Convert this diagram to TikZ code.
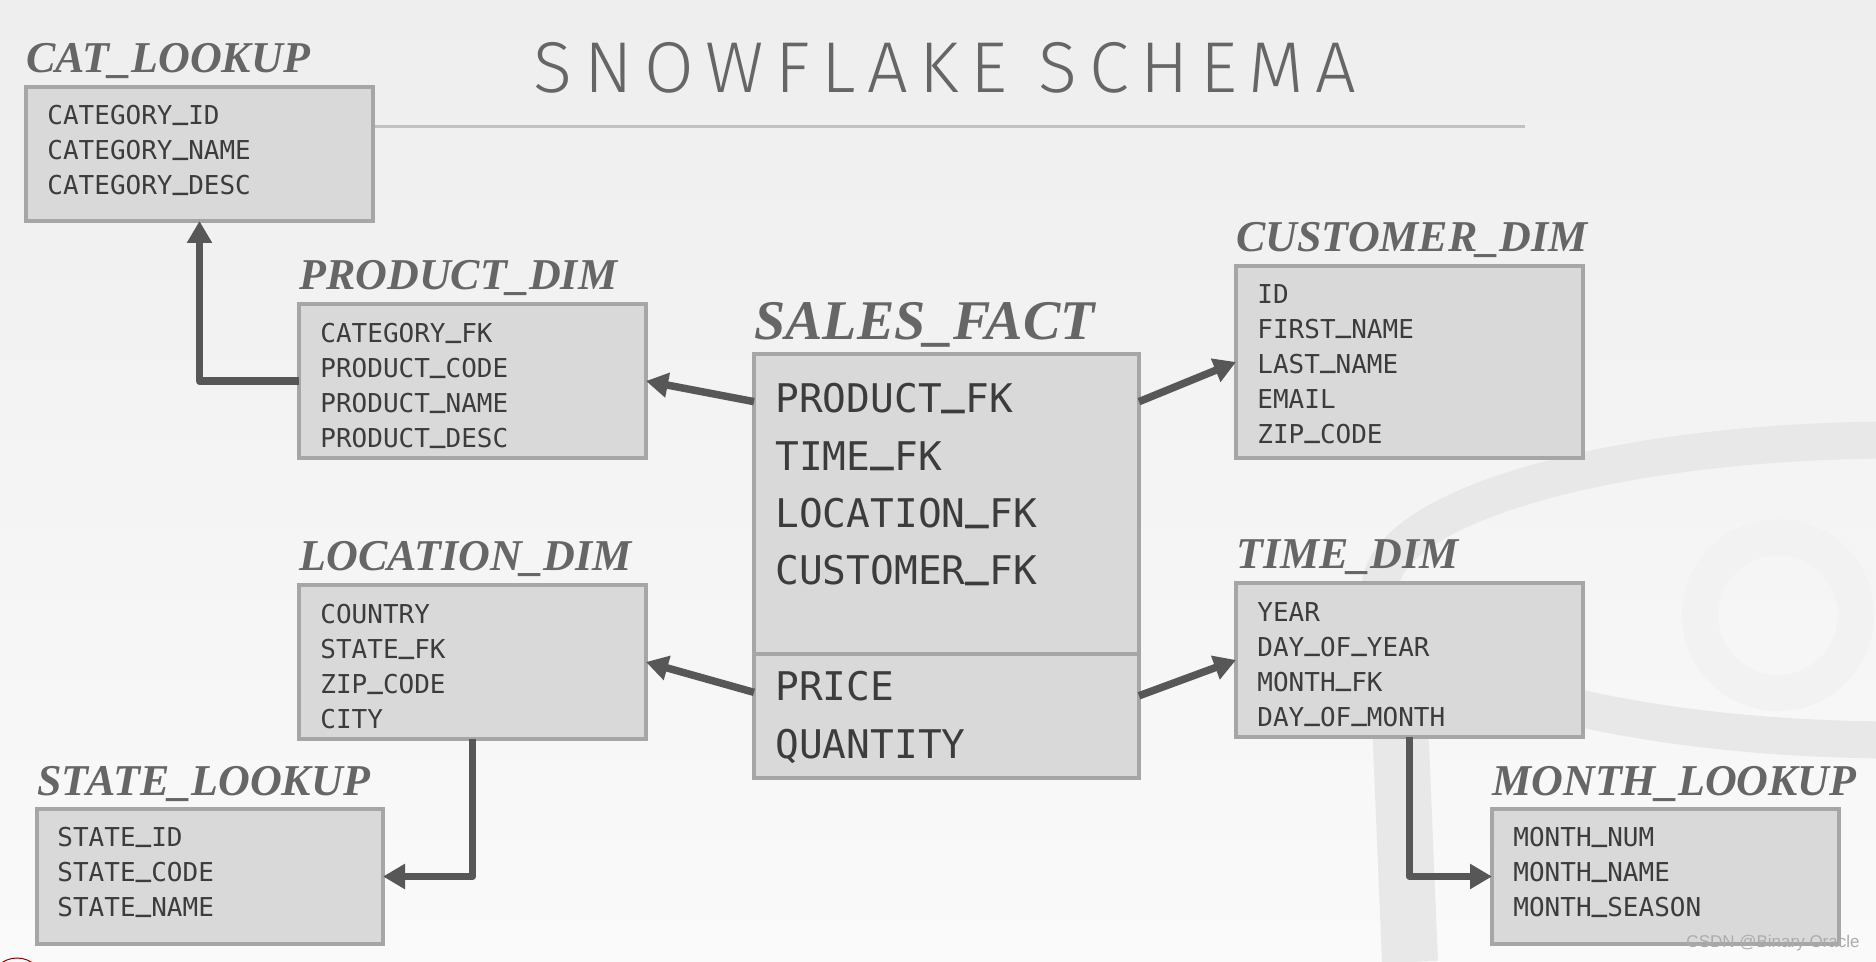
\documentclass[tikz,border=0pt]{standalone}
\usepackage{fontspec}
\usepackage{tikz}
\usetikzlibrary{positioning, arrows.meta}
\newfontfamily\rowfont{DejaVu Sans Mono}
\newfontfamily\titlefont{Liberation Serif}
\newfontfamily\headfont{Fira Sans Light}[LetterSpace=16]
\newfontfamily\markfont{Liberation Sans}
\newcommand\us{\raisebox{0.21em}{\bfseries\_}}
\definecolor{bgtop}{HTML}{EEEEEE}
\definecolor{bgbottom}{HTML}{FAFAFA}
\definecolor{logogray}{HTML}{E8E8E8}
\definecolor{boxfill}{HTML}{D9D9D9}
\definecolor{boxline}{HTML}{A6A6A6}
\definecolor{rowtext}{HTML}{3C3C3C}
\definecolor{titlegray}{HTML}{666666}
\definecolor{linkgray}{HTML}{575757}
\tikzstyle{link} = [draw=linkgray,line width=3.75pt,line join=round,-{Triangle[length=11pt,width=12pt]}]

\begin{document}
\begin{tikzpicture}[x=0.5pt,y=-0.5pt,
	tbl/.style={draw=boxline, fill=boxfill, line width=2pt, inner sep=0pt, outer sep=0pt, anchor=north west},
	rows/.style={font=\rowfont\fontsize{13pt}{17.5pt}\selectfont, text=rowtext, align=left, inner sep=0pt},
	bigrows/.style={rows, font=\rowfont\fontsize{19.75pt}{28.7pt}\selectfont},
	tabtitle/.style={font=\titlefont\bfseries\itshape\fontsize{22pt}{22pt}\selectfont, text=titlegray, inner sep=0pt, anchor=base west},
	logo/.style={draw=logogray}]
	
	% page and background
	\useasboundingbox (0,0) rectangle (1876,962);
	\shade[top color=bgtop, bottom color=bgbottom] (0,0) rectangle (1876,962);
	\draw[logo, line width=18.5pt] (1900,590) ellipse [x radius=520, y radius=150];
	\draw[logo, line width=28pt] (1395,600) -- (1410,962);
	\draw[logo, draw=logogray!45!bgbottom, line width=18pt] (1778,615) circle [radius=78];
	\draw[red!55!black, line width=0.5pt] (17,985) circle [radius=27];
	
	% heading
	\draw[draw=boxline!70, line width=1.5pt] (300,127) -- (1525,127);
	\node[font=\headfont\fontsize{36pt}{36pt}\selectfont, text=titlegray, inner sep=0pt, anchor=base] (heading) at (945,93) {SNOWFLAKE SCHEMA};
	
	% tables
	\node[tbl, minimum width=173.5pt, minimum height=67pt] (cat) at (26,87) {};
	\node[tbl, minimum width=173.5pt, minimum height=77pt] (product) at (299,304) {};
	\node[tbl, minimum width=192.5pt, minimum height=150pt] (salesfk) at (754,354) {};
	\node[tbl, minimum width=192.5pt, minimum height=62pt, below=0pt of salesfk] (salesm) {};
	\node[tbl, minimum width=173.5pt, minimum height=96pt] (customer) at (1236,266) {};
	\node[tbl, minimum width=173.5pt, minimum height=77pt] (location) at (299,585) {};
	\node[tbl, minimum width=173.5pt, minimum height=77pt] (time) at (1236,583) {};
	\node[tbl, minimum width=173pt, minimum height=67.5pt] (state) at (37,809) {};
	\node[tbl, minimum width=173.5pt, minimum height=67.5pt] (month) at (1492,809) {};
	
	% table names
	\node[above=7pt of cat.north west, tabtitle] (cattitle) {CAT\_LOOKUP};
	\node[above=7pt of product.north west, tabtitle] (producttitle) {PRODUCT\_DIM};
	\node[above=7pt of salesfk.north west, tabtitle, font=\titlefont\bfseries\itshape\fontsize{28pt}{28pt}\selectfont] (salestitle) {SALES\_FACT};
	\node[above=7pt of customer.north west, tabtitle] (customertitle) {CUSTOMER\_DIM};
	\node[above=7pt of location.north west, tabtitle] (locationtitle) {LOCATION\_DIM};
	\node[above=7pt of time.north west, tabtitle] (timetitle) {TIME\_DIM};
	\node[above=7pt of state.north west, tabtitle] (statetitle) {STATE\_LOOKUP};
	\node[above=7pt of month.north west, tabtitle] (monthtitle) {MONTH\_LOOKUP};
	
	% columns
	\node[rows, below right=9pt and 10.5pt of cat.north west] (catrows) {CATEGORY\us ID\\CATEGORY\us NAME\\CATEGORY\us DESC};
	\node[rows, below right=9.5pt and 10.5pt of product.north west] (productrows) {CATEGORY\us FK\\PRODUCT\us CODE\\PRODUCT\us NAME\\PRODUCT\us DESC};
	\node[bigrows, below right=14.5pt and 10.5pt of salesfk.north west] (salesfkrows) {PRODUCT\us FK\\TIME\us FK\\LOCATION\us FK\\CUSTOMER\us FK};
	\node[bigrows, below right=8.5pt and 10.5pt of salesm.north west] (salesmrows) {PRICE\\QUANTITY};
	\node[rows, below right=9pt and 10.5pt of customer.north west] (customerrows) {ID\\FIRST\us NAME\\LAST\us NAME\\EMAIL\\ZIP\us CODE};
	\node[rows, below right=9.5pt and 10.5pt of location.north west] (locationrows) {COUNTRY\\STATE\us FK\\ZIP\us CODE\\CITY};
	\node[rows, below right=9.5pt and 10.5pt of time.north west] (timerows) {YEAR\\DAY\us OF\us YEAR\\MONTH\us FK\\DAY\us OF\us MONTH};
	\node[rows, below right=9pt and 10pt of state.north west] (staterows) {STATE\us ID\\STATE\us CODE\\STATE\us NAME};
	\node[rows, below right=9pt and 10.5pt of month.north west] (monthrows) {MONTH\us NUM\\MONTH\us NAME\\MONTH\us SEASON};
	
	% references
	\draw[link] (salesfk.152) -- (product.east);
	\draw[link] (salesfk.28) -- (customer.west);
	\draw[link] (salesm.173.5) -- (location.east);
	\draw[link] (salesm.6.5) -- (time.west);
	\draw[link] (product.west) -| (cat.south);
	\draw[link] (location.south) |- (state.east);
	\draw[link] (time.south) |- (month.west);
	
	\node[font=\markfont\fontsize{8.5pt}{8.5pt}\selectfont, text=gray!65, inner sep=0pt, anchor=base east] (csdn) at (1860,947) {CSDN @Binary Oracle};
\end{tikzpicture}
\end{document}
